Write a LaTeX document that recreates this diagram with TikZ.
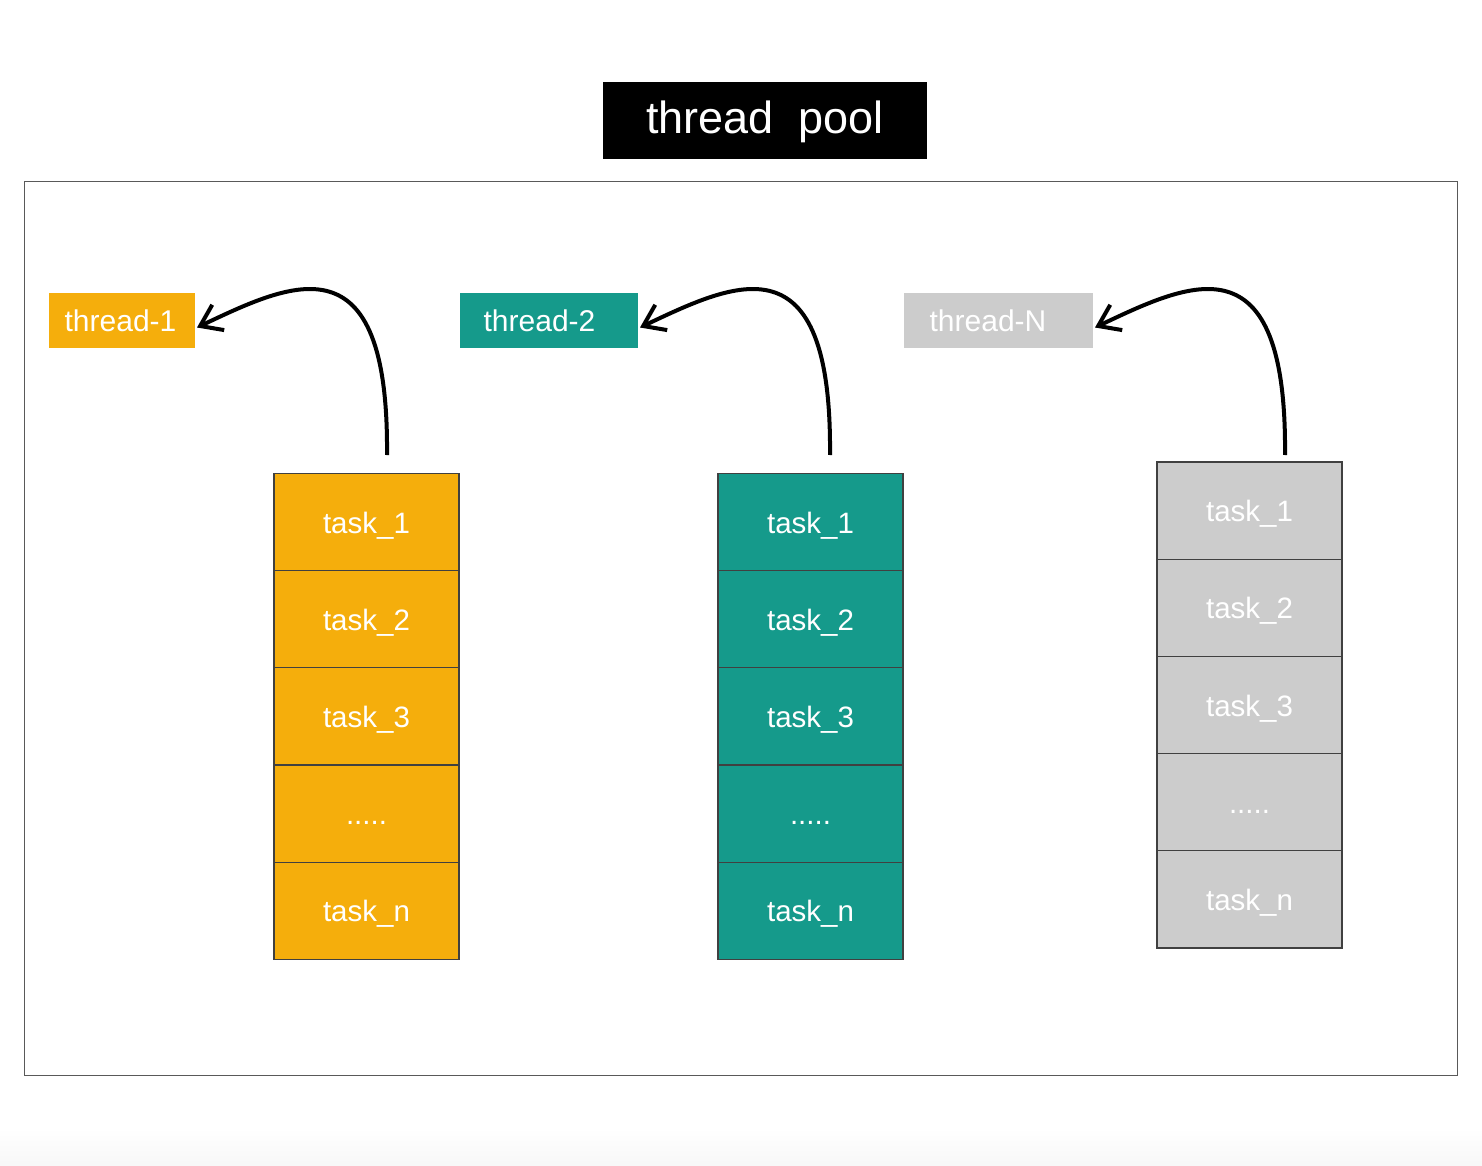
\documentclass[tikz,border=0pt]{standalone}
\usepackage{fontspec}
\setmainfont{Liberation Sans}
\usetikzlibrary{arrows.meta}
\definecolor{orangeC}{RGB}{245,174,12}
\definecolor{tealC}{RGB}{21,154,139}
\definecolor{greyC}{RGB}{204,204,204}
\tikzset{
  cell/.style={draw=black!75, line width=1.3pt, minimum width=185pt, minimum height=97.2pt,
    inner sep=0pt, outer sep=0pt, text=white, font=\fontsize{29.5}{34}\selectfont,
    text height=22pt, text depth=0pt},
  thr/.style={minimum height=55pt, inner sep=0pt, outer sep=0pt, text=white,
    font=\fontsize{30}{34}\selectfont, text height=21pt, text depth=0pt},
  link/.style={line width=4pt, -{Straight Barb[length=20pt,width=28pt,line width=4pt]}},
}
\begin{document}
\begin{tikzpicture}[x=1pt,y=-1pt]
\useasboundingbox (0,0) rectangle (1482,1166);
\shade[top color=white, bottom color=black!3] (0,1128) rectangle (1482,1166);
% outer frame
\draw[black!65, line width=1pt] (24,182) rectangle (1457,1075);
% title
\node[fill=black, text=white, minimum width=324pt, minimum height=77pt, inner sep=0pt,
  font=\fontsize{45}{50}\selectfont, text height=26pt, text depth=0pt] (title) at (765,120.5) {thread\ \ pool};
% threads
\node[thr, fill=orangeC, minimum width=146pt] (t1) at (122,320.5) {thread-1\hspace*{3pt}};
\node[thr, fill=tealC, minimum width=178pt] (t2) at (549,320.5) {thread-2\hspace*{19pt}};
\node[thr, fill=greyC, minimum width=189pt] (tN) at (998.5,320.5) {thread-N\hspace*{21pt}};
% column 1
\node[cell, fill=orangeC] (a1) at (366.5,522) {task\_1};
\node[cell, fill=orangeC] (a2) at (366.5,619.2) {task\_2};
\node[cell, fill=orangeC] (a3) at (366.5,716.4) {task\_3};
\node[cell, fill=orangeC] (a4) at (366.5,813.6) {.....};
\node[cell, fill=orangeC] (a5) at (366.5,910.8) {task\_n};
% column 2
\node[cell, fill=tealC] (b1) at (810.5,522) {task\_1};
\node[cell, fill=tealC] (b2) at (810.5,619.2) {task\_2};
\node[cell, fill=tealC] (b3) at (810.5,716.4) {task\_3};
\node[cell, fill=tealC] (b4) at (810.5,813.6) {.....};
\node[cell, fill=tealC] (b5) at (810.5,910.8) {task\_n};
% column 3
\node[cell, fill=greyC] (c1) at (1249.5,510.6) {task\_1};
\node[cell, fill=greyC] (c2) at (1249.5,607.8) {task\_2};
\node[cell, fill=greyC] (c3) at (1249.5,705) {task\_3};
\node[cell, fill=greyC] (c4) at (1249.5,802.2) {.....};
\node[cell, fill=greyC] (c5) at (1249.5,899.4) {task\_n};
% arrow start points
\coordinate (s1) at (387,455);
\coordinate (s2) at (830,455);
\coordinate (sN) at (1285,455);
\draw[link] (s1) .. controls +(2,-220) and +(95,-45) .. ([xshift=2pt,yshift=-7pt]t1.east);
\draw[link] (s2) .. controls +(2,-220) and +(95,-45) .. ([xshift=2pt,yshift=-7pt]t2.east);
\draw[link] (sN) .. controls +(2,-220) and +(95,-45) .. ([xshift=2pt,yshift=-7pt]tN.east);
\end{tikzpicture}
\end{document}
